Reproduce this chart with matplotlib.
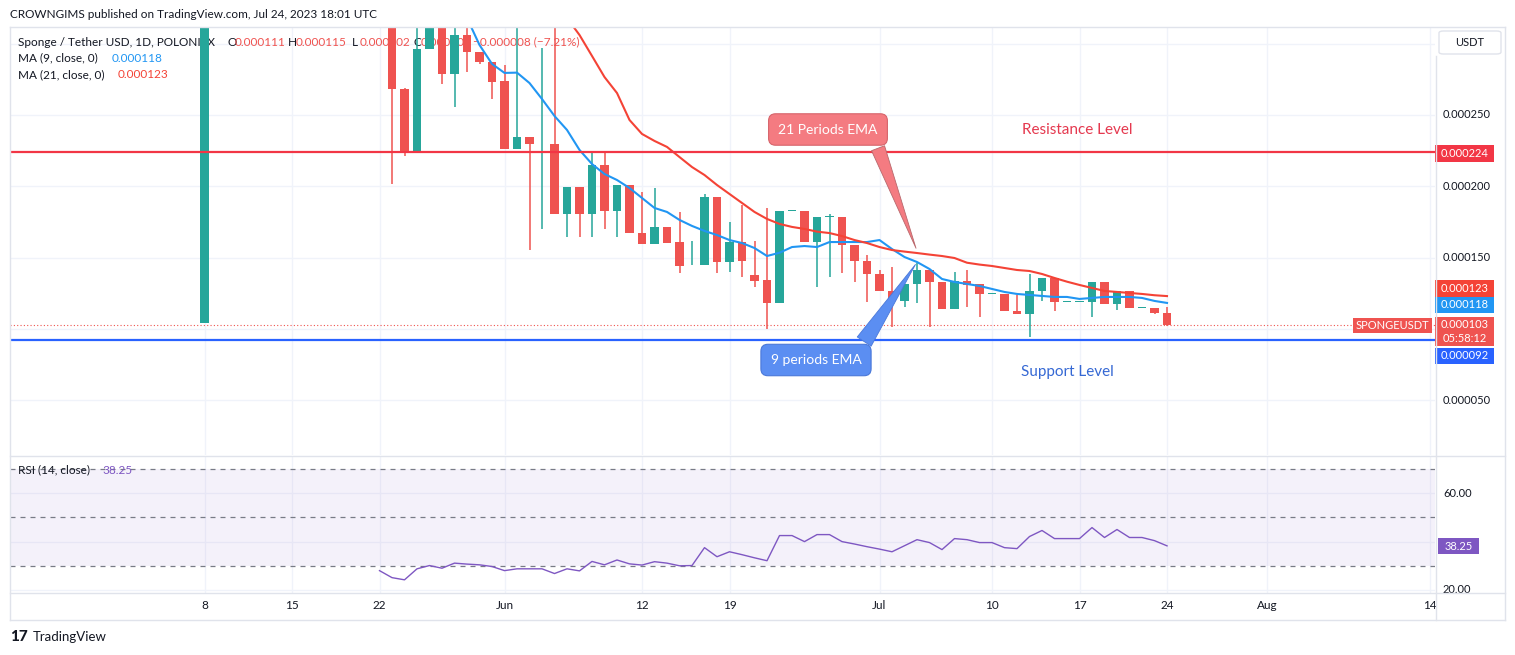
import numpy as np
import pandas as pd
import matplotlib
matplotlib.use("Agg")
import matplotlib.pyplot as plt
import matplotlib.dates as mdates
import matplotlib.transforms as mtrans
from matplotlib.lines import Line2D
from matplotlib.patches import Rectangle, FancyBboxPatch

plt.rcParams['font.family'] = ['Lato', 'DejaVu Sans']

# %% Datos  (precios en micro-USDT: 1 = 0.000001 USDT)

first_date = "2023-05-08"
first_ohlc = [104.0, 720.0, 104.0, 700.0]   # vela de salida, se corta por arriba

start_date = "2023-05-23"   # velas diarias hasta el 24 jul
opens = [340, 268.2, 224.8, 296.3, 320, 278.8, 306.1, 294.2, 287.2, 273.8,
         226.2, 234.6, 229.5, 229.7, 180.6, 199.5, 180.6, 214.9, 182.7, 200.9,
         167.2, 159.5, 171.5, 160.9, 144.5, 144.8, 192.5, 146.9, 160.9, 137.8,
         134.3, 118.2, 182.4, 182.7, 160.9, 178.2, 178.5, 158.8, 147.6, 138.5,
         126.6, 119.6, 131.5, 141.3, 132.9, 114.0, 133.6, 131.5, 124.2, 124.5,
         112.5, 110.4, 126.6, 135.7, 118.6, 118.6, 118.9, 132.9, 117.5, 126.6,
         114.4, 114.7, 111]
highs = [355, 269, 330, 325, 328, 320, 314, 294.2, 287.2, 285,
         330, 234.6, 296.8, 320, 199.5, 199.5, 224.1, 224.1, 200.9, 200.9,
         196.0, 198.8, 171.5, 182.0, 161.6, 194.6, 192.5, 175.0, 186.9, 161.6,
         184.8, 182.7, 183.1, 182.7, 178.5, 180.6, 178.5, 158.8, 151.8, 141.3,
         143.4, 131.5, 146.2, 141.3, 132.9, 139.9, 141.3, 131.5, 124.9, 124.5,
         123.8, 138.5, 135.7, 135.7, 119.3, 119.3, 132.9, 132.9, 126.6, 126.6,
         115.1, 114.7, 115]
lows = [201.6, 221.2, 224.8, 296.3, 271.7, 255.6, 280.2, 286, 261.2, 226.2,
        226.2, 155.3, 170.1, 180.6, 164.4, 164.7, 164.4, 170.1, 164.6, 167.2,
        159.5, 159.5, 160.2, 139.2, 144.5, 144.8, 139.2, 139.9, 136.4, 129.4,
        99.9, 118.2, 182.4, 160.9, 129.4, 136.6, 139.2, 132.9, 118.9, 126.6,
        101.3, 115.4, 118.2, 101.3, 114.0, 114.0, 115.4, 108.3, 124.2, 112.5,
        110.4, 94.3, 119.6, 112.5, 118.6, 118.6, 108.3, 117.5, 113.3, 114.7,
        114.4, 110.4, 102]
closes = [268.2, 224.8, 296.3, 320, 278.8, 306.1, 294.2, 287.2, 273.1, 226.2,
          234.6, 229.7, 229.9, 180.6, 199.5, 180.6, 214.9, 182.7, 200.9, 167.2,
          159.5, 171.5, 160.2, 144.1, 145.0, 192.5, 146.9, 160.9, 147.6, 133.6,
          118.2, 182.7, 183.1, 160.9, 178.5, 178.9, 158.8, 147.6, 138.5, 126.6,
          119.6, 131.5, 141.3, 132.9, 114.0, 133.6, 130.8, 124.5, 124.9, 112.5,
          110.4, 126.6, 135.7, 118.9, 119.3, 119.3, 132.9, 117.5, 126.6, 114.7,
          115.1, 111.0, 103]

ma9_start = "2023-05-29"
ma9 = [318, 299.1, 285.8, 279.5, 279.7, 272.4, 261.2, 249.3, 239.5, 225.5,
       215.6, 208.6, 204.4, 198.8, 191.8, 184.8, 182.0, 176.4, 172.2, 168.7,
       165.8, 162.3, 160.2, 156.7, 151.1, 153.4, 157.4, 158.1, 157.4, 160.9,
       160.9, 160.9, 160.9, 162.3, 156.0, 150.4, 146.9, 142.0, 135.0, 132.9,
       131.5, 130.1, 128.0, 125.9, 124.5, 123.8, 123.1, 122.4, 122.4, 121.0,
       121.7, 122.4, 122.4, 122.4, 121.7, 119.6, 118.2]
ma21_start = "2023-06-06"
ma21 = [318, 306.1, 291.4, 276.6, 265.4, 246.5, 236.7, 231.8, 227.6, 220.5,
        213.5, 207.9, 200.9, 194.6, 188.3, 182.0, 177.1, 173.6, 171.5, 170.1,
        168.2, 167.2, 165.1, 162.3, 160.2, 157.4, 155.3, 154.2, 153.2, 152.1,
        151.1, 149.7, 146.4, 145.1, 144.1, 142.7, 141.3, 140.6, 138.5, 135.7,
        133.1, 130.8, 128.7, 126.6, 125.9, 125.2, 124.5, 123.6, 123.0]

rsi_start = "2023-05-22"
rsi = [28.0, 25.1, 24.2, 28.75, 30.1, 29.0, 31.1, 30.7, 30.4, 29.7,
       28.0, 28.75, 28.75, 28.75, 26.8, 28.75, 27.9, 31.8, 30.4, 32.4,
       30.8, 30.3, 31.7, 31.1, 30.0, 30.1, 37.5, 33.75, 35.8, 34.6,
       33.3, 32.1, 42.5, 42.5, 40.0, 42.9, 42.9, 40.0, 39.0, 37.9,
       36.9, 35.8, 38.3, 40.8, 39.6, 36.7, 41.25, 40.8, 39.6, 39.6,
       37.5, 37.1, 42.1, 44.6, 41.25, 41.25, 41.25, 45.8, 41.7, 45.0,
       41.7, 41.7, 40.4, 38.25]

resistance = 224.0
support = 92.0
ema21_tip = ("2023-07-04", 154.7)
ema9_tip = ("2023-07-04", 146.8)

tick_dates = ["2023-05-08", "2023-05-15", "2023-05-22", "2023-06-01", "2023-06-12",
              "2023-06-19", "2023-07-01", "2023-07-10", "2023-07-17", "2023-07-24",
              "2023-08-01", "2023-08-14"]
tick_labels = ["8", "15", "22", "Jun", "12", "19", "Jul", "10", "17", "24", "Aug", "14"]
price_grid = [50, 100, 150, 200, 250, 300]
price_shown = [50, 150, 200, 250]
rsi_grid = [20, 40, 60]
rsi_shown = [20, 60]

# %% Estilo
GREEN = "#26a69a"
RED = "#ef5350"
BLUE_MA = "#2196f3"
RED_MA = "#f44336"
PURPLE = "#7e57c2"
GRID = "#f0f3fa"
FRAME = "#e0e3eb"
TXT = "#131722"

W, H = 1515, 655
fig = plt.figure(figsize=(W / 100, H / 100), dpi=100)
fig.patch.set_facecolor("white")


def fx(px):
    return px / W


def fy(py):
    return 1 - py / H


def ax_box(l, t, r, b):
    return [fx(l), fy(b), (r - l) / W, (b - t) / H]


def ftext(x, y, s, **kw):
    kw.setdefault("va", "center")
    kw.setdefault("fontsize", 8.5)
    kw.setdefault("color", TXT)
    return fig.text(fx(x), fy(y), s, **kw)


def frame_line(x0, y0, x1, y1):
    fig.add_artist(Line2D([fx(x0), fx(x1)], [fy(y0), fy(y1)], color=FRAME, lw=1))


def tag(l, t, r, b, col):
    fig.add_artist(Rectangle((fx(l), fy(b)), (r - l) / W, (b - t) / H,
                             facecolor=col, edgecolor="none", transform=fig.transFigure))


def num(d):
    return mdates.date2num(pd.Timestamp(d).to_pydatetime())


ax = fig.add_axes(ax_box(10, 28, 1435, 455))
ax2 = fig.add_axes(ax_box(10, 456, 1435, 593), sharex=ax)

tick_x = [num(d) for d in tick_dates]
for a in (ax, ax2):
    for s in a.spines.values():
        s.set_visible(False)
    a.tick_params(length=0, labelleft=False)
    a.set_xticks(tick_x)
    a.grid(True, color=GRID, lw=1)
    a.set_axisbelow(True)
ax.tick_params(labelbottom=False)
ax2.set_xticklabels(tick_labels, fontsize=8.5, color=TXT)
ax2.tick_params(axis="x", pad=5)

x0 = num(start_date)
ax.set_xlim(x0 - 30.56, x0 + 83.44)
ax.set_ylim(11.56, 311.0)
ax.set_yticks(price_grid)

# %% Velas
days = pd.date_range(start_date, periods=len(opens), freq="D")
x = np.concatenate([[num(first_date)], mdates.date2num(days.to_pydatetime())])
o = np.array([first_ohlc[0]] + opens)
h = np.array([first_ohlc[1]] + highs)
l = np.array([first_ohlc[2]] + lows)
c = np.array([first_ohlc[3]] + closes)
col = np.where(c >= o, GREEN, RED)
ax.vlines(x, l, h, colors=col, lw=1.1, zorder=3)
ax.bar(x, c - o, bottom=o, width=0.66, color=col, lw=0, zorder=4)

x9 = mdates.date2num(pd.date_range(ma9_start, periods=len(ma9), freq="D").to_pydatetime())
x21 = mdates.date2num(pd.date_range(ma21_start, periods=len(ma21), freq="D").to_pydatetime())
ax.plot(x9, ma9, color=BLUE_MA, lw=1.5, zorder=5)
ax.plot(x21, ma21, color=RED_MA, lw=1.5, zorder=5)

ax.axhline(resistance, color="#f23645", lw=1.6, zorder=6)
ax.axhline(support, color="#2962ff", lw=1.6, zorder=6)
ax.axhline(c[-1], color=RED, lw=0.8, ls=(0, (1, 2)), zorder=2)

# callouts
ax.annotate("21 Periods EMA", xy=(num(ema21_tip[0]), ema21_tip[1]), xycoords="data",
            xytext=(828, H - 129.5), textcoords="figure pixels",
            ha="center", va="center", color="white", fontsize=10, zorder=8,
            bbox=dict(boxstyle="round,pad=0.7,rounding_size=0.5", fc="#f47b81", ec="#d6646b", lw=0.8),
            arrowprops=dict(arrowstyle="wedge,tail_width=1.0,shrink_factor=0.5",
                            fc="#f47b81", ec="#b8686c", lw=0.6, relpos=(0.955, 0.0)))
ax.annotate("9 periods EMA", xy=(num(ema9_tip[0]), ema9_tip[1]), xycoords="data",
            xytext=(816, H - 360), textcoords="figure pixels",
            ha="center", va="center", color="white", fontsize=10, zorder=8,
            bbox=dict(boxstyle="round,pad=0.7,rounding_size=0.5", fc="#5b8ef2", ec="#4a78d9", lw=0.8),
            arrowprops=dict(arrowstyle="wedge,tail_width=1.2,shrink_factor=0.5",
                            fc="#5b8ef2", ec="#4a78d9", lw=0.6, relpos=(0.94, 1.0)))

ftext(1077, 130, "Resistance Level", ha="center", fontsize=11, color="#e5394f")
ftext(1067, 372, "Support Level", ha="center", fontsize=11, color="#3568d4")

# %% RSI
rsi_x = mdates.date2num(pd.date_range(rsi_start, periods=len(rsi), freq="D").to_pydatetime())
ax2.axhspan(30, 70, color=PURPLE, alpha=0.08, lw=0)
for lev in (70, 50, 30):
    ax2.axhline(lev, color="#787b86", lw=0.9, ls=(0, (4, 4)))
ax2.plot(rsi_x, rsi, color=PURPLE, lw=1)
ax2.set_ylim(18.75, 75.4)
ax2.set_yticks(rsi_grid)

# %% Marco
frame_line(10, 27, 1505, 27)
frame_line(10, 455.5, 1505, 455.5)
frame_line(10, 593, 1505, 593)
frame_line(10, 620, 1505, 620)
frame_line(10, 27, 10, 620)
frame_line(1435.5, 56, 1435.5, 620)
frame_line(1505, 27, 1505, 620)

# eje de precios
ytr = mtrans.blended_transform_factory(fig.transFigure, ax.transData)
for v in price_shown:
    ax.text(fx(1443), v, f"{v / 1e6:.6f}", transform=ytr, va="center", fontsize=8, color=TXT)
ytr2 = mtrans.blended_transform_factory(fig.transFigure, ax2.transData)
for v in rsi_shown:
    ax2.text(fx(1443), v, f"{v:.2f}", transform=ytr2, va="center", fontsize=8, color=TXT)

usdt = FancyBboxPatch((fx(1439), fy(54)), (1501 - 1439) / W, (54 - 31) / H,
                      boxstyle="round,pad=0,rounding_size=0.003", transform=fig.transFigure,
                      facecolor="white", edgecolor=FRAME, lw=1)
fig.add_artist(usdt)
ftext(1470, 43, "USDT", ha="center", fontsize=8)

tag(1435, 145, 1494, 161.5, "#f23645")
ftext(1464.5, 153.5, f"{resistance / 1e6:.6f}", ha="center", fontsize=8, color="white")
tag(1435, 280, 1494, 296.5, RED_MA)
ftext(1464.5, 288.5, f"{ma21[-1] / 1e6:.6f}", ha="center", fontsize=8, color="white")
tag(1435, 297, 1494, 313, BLUE_MA)
ftext(1464.5, 305, f"{ma9[-1] / 1e6:.6f}", ha="center", fontsize=8, color="white")
tag(1435, 317, 1494, 346, RED)
ftext(1464.5, 324.5, f"{closes[-1] / 1e6:.6f}", ha="center", fontsize=8, color="white")
ftext(1464.5, 339, "05:58:12", ha="center", fontsize=8, color="white")
tag(1435, 348, 1494, 363.5, "#2962ff")
ftext(1464.5, 355.5, f"{support / 1e6:.6f}", ha="center", fontsize=8, color="white")
tag(1353, 318, 1432, 333, RED)
ftext(1392.5, 325.5, "SPONGEUSDT", ha="center", fontsize=8, color="white")
tag(1438, 538, 1479, 554, PURPLE)
ftext(1458.5, 546, f"{rsi[-1]:.2f}", ha="center", fontsize=8, color="white")

# %% Leyendas
ftext(10, 14, "CROWNGIMS published on TradingView.com, Jul 24, 2023 18:01 UTC", fontsize=8.5)

lg = dict(transform=fig.transFigure, va="center", fontsize=8.5, zorder=2)
ax.text(fx(18), fy(42), "Sponge / Tether USD, 1D, POLONIEX", color=TXT, **lg)
ohlc_txt = [("O", 227, opens[-1]), ("H", 288, highs[-1]), ("L", 352, lows[-1]), ("C", 413, closes[-1])]
for k, xp, v in ohlc_txt:
    ax.text(fx(xp), fy(42), k, color=TXT, **lg)
    ax.text(fx(xp + 8), fy(42), f"{v / 1e6:.6f}", color=RED, **lg)
chg = closes[-1] - closes[-2]
ax.text(fx(473), fy(42), f"\u2212{abs(chg) / 1e6:.6f} (\u2212{abs(chg) / closes[-2] * 100:.2f}%)", color=RED, **lg)
ax.text(fx(18), fy(58), "MA (9, close, 0)", color=TXT, **lg)
ax.text(fx(112), fy(58), f"{ma9[-1] / 1e6:.6f}", color=BLUE_MA, **lg)
ax.text(fx(18), fy(75), "MA (21, close, 0)", color=TXT, **lg)
ax.text(fx(118), fy(75), f"{ma21[-1] / 1e6:.6f}", color=RED_MA, **lg)

ax2.text(fx(18), fy(470), "RSI (14, close)", color=TXT, **lg)
ax2.text(fx(102), fy(470), f"{rsi[-1]:.2f}", color=PURPLE, **lg)

ftext(10, 637, "17", fontsize=11, fontweight="black")
ftext(33, 637, "TradingView", fontsize=9.5)

fig.savefig("out.png", dpi=100)
